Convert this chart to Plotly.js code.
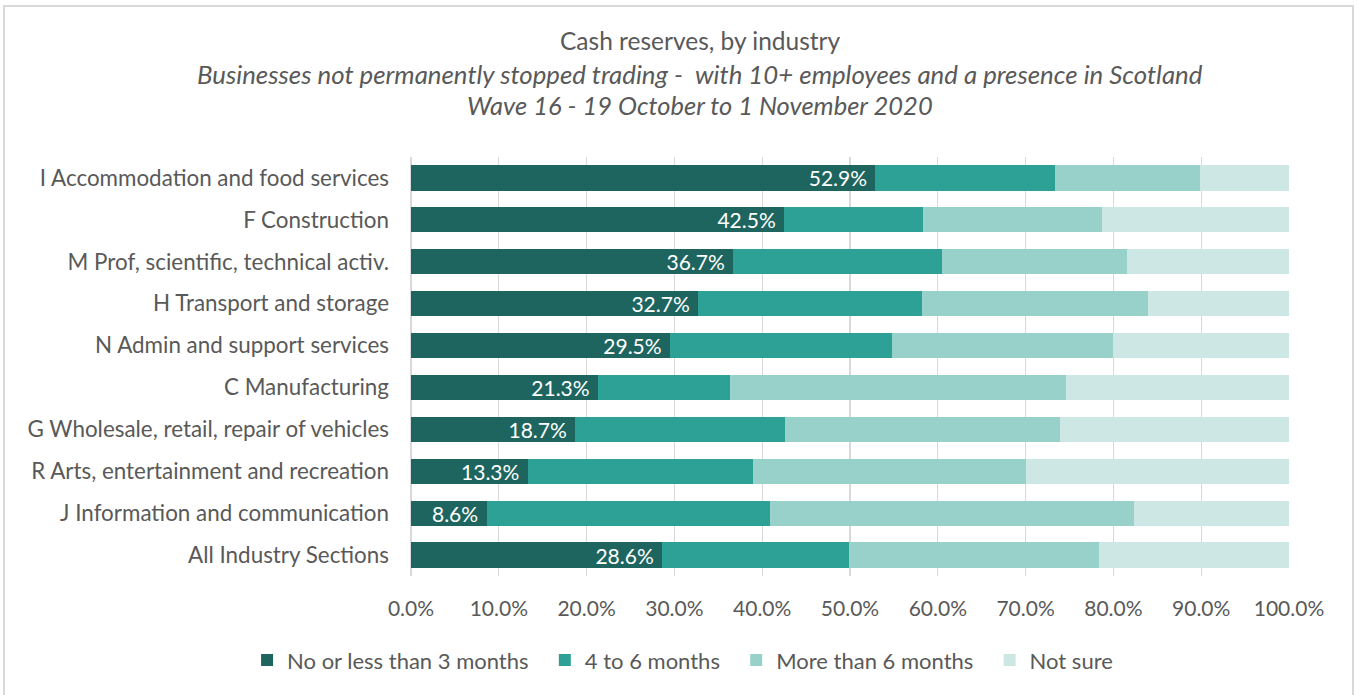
<!DOCTYPE html>
<html><head><meta charset="utf-8">
<script src="https://cdn.plot.ly/plotly-3.0.1.min.js"></script>
<style>
html,body{margin:0;padding:0;background:#fff;}
#wrap{position:relative;width:1357px;height:695px;overflow:hidden;}
#chart{width:1357px;height:695px;}
#frame{position:absolute;left:3px;top:5px;width:1347px;height:720px;border:2px solid #d9d9d9;pointer-events:none;}
</style></head>
<body><div id="wrap"><div id="chart"></div><div id="frame"></div></div>
<script>
const categories = [
  "I Accommodation and food services",
  "F Construction",
  "M Prof, scientific, technical activ.",
  "H Transport and storage",
  "N Admin and support services",
  "C Manufacturing",
  "G Wholesale, retail, repair of vehicles",
  "R Arts, entertainment and recreation",
  "J Information and communication",
  "All Industry Sections"
];
const seriesNames = ["No or less than 3 months","4 to 6 months","More than 6 months","Not sure"];
const lessThan3 = [52.9, 42.5, 36.7, 32.7, 29.5, 21.3, 18.7, 13.3, 8.6, 28.6];
const months4to6 = [20.5, 15.8, 23.8, 25.5, 25.3, 15.0, 23.9, 25.6, 32.3, 21.3];
const moreThan6 = [16.5, 20.4, 21.1, 25.7, 25.1, 38.3, 31.3, 31.1, 41.4, 28.5];
const notSure = [10.1, 21.3, 18.4, 16.1, 20.1, 25.4, 26.1, 30.0, 17.7, 21.6];
const titleLines = ["Cash reserves, by industry",
  "Businesses not permanently stopped trading -  with 10+ employees and a presence in Scotland",
  "Wave 16 - 19 October to 1 November 2020"];

const colors = ["#1e655f","#2ea197","#97d1c9","#cde8e4"];
const FONT = "Lato, 'Open Sans', sans-serif";
const grey = "#595959";
const allSeries = [lessThan3, months4to6, moreThan6, notSure];
const traces = allSeries.map((vals,i)=>({
  type:'bar', orientation:'h',
  name: i < 3 ? seriesNames[i] + '\u00a0\u00a0' : seriesNames[i],
  y:categories, x:vals,
  marker:{color:colors[i], line:{width:0}},
  text: i===0 ? vals.map(v=>v.toFixed(1)+'%\u00a0') : undefined,
  textposition: i===0 ? 'inside' : 'none',
  insidetextanchor:'end',
  constraintext:'none',
  textfont:{family:FONT, size:21, color:'#ffffff'},
  hoverinfo:'x+name'
}));

const layout = {
  width:1357, height:695,
  paper_bgcolor:'rgba(0,0,0,0)', plot_bgcolor:'#ffffff',
  margin:{l:411, r:68, t:156.5, b:118.5},
  barmode:'stack', bargap:0.4,
  font:{family:FONT, color:grey, size:20},
  showlegend:true,
  legend:{orientation:'h', xref:'container', yref:'container', x:0.503, xanchor:'center', y:0.05, yanchor:'middle',
    font:{family:FONT, size:22, color:grey}, traceorder:'normal', itemwidth:30},
  xaxis:{range:[0,100], dtick:10, tick0:0, tickformat:'.1f', ticksuffix:'%',
    showgrid:true, gridcolor:'#d9d9d9', gridwidth:1.3, zeroline:true, zerolinecolor:'#d9d9d9', zerolinewidth:1.3,
    showline:false, ticks:'', ticklabelstandoff:18, tickfont:{family:FONT, size:21, color:grey}, fixedrange:true},
  yaxis:{categoryorder:'array', categoryarray:categories, autorange:'reversed',
    showgrid:false, zeroline:false, showline:false, ticks:'', ticklabelstandoff:21,
    tickfont:{family:FONT, size:22.4, color:grey}, fixedrange:true},
  annotations:[
    {text:titleLines[0], xref:'paper', yref:'paper', x:(700-411)/878, y:(576.5-40)/420, showarrow:false, xanchor:'center', yanchor:'middle', font:{family:FONT,size:24.5,color:grey}},
    {text:'<i>'+titleLines[1]+'</i>', xref:'paper', yref:'paper', x:(700-411)/878, y:(576.5-73)/420, showarrow:false, xanchor:'center', yanchor:'middle', font:{family:FONT,size:25.8,color:grey}},
    {text:'<i>'+titleLines[2]+'</i>', xref:'paper', yref:'paper', x:(700-411)/878, y:(576.5-104)/420, showarrow:false, xanchor:'center', yanchor:'middle', font:{family:FONT,size:25.5,color:grey}}
  ]
};
Plotly.newPlot('chart', traces, layout, {displayModeBar:false, staticPlot:true});
</script></body></html>
